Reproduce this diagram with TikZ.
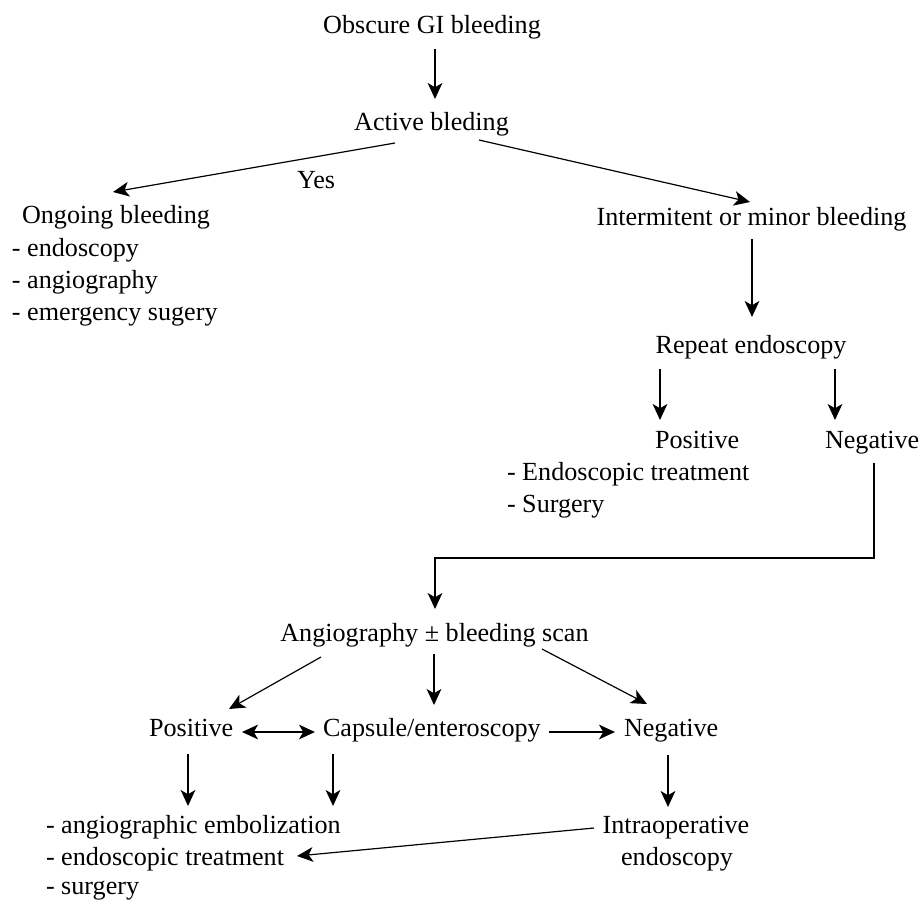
\documentclass[tikz,border=0pt]{standalone}
\usepackage{fontspec}
\setmainfont{Liberation Serif}
\usetikzlibrary{arrows.meta,calc}
\begin{document}
\begin{tikzpicture}[x=0.75pt,y=-0.75pt,
  txt/.style={inner sep=0pt,outer sep=0pt,anchor=base,font=\fontsize{19.6pt}{23pt}\selectfont},
  txtl/.style={txt,anchor=base west},
  arr/.style={line width=0.9pt,-{Stealth[length=12pt,width=11pt,inset=3.2pt]}},
  darr/.style={line width=0.9pt,{Stealth[length=12pt,width=11pt,inset=3.2pt]}-{Stealth[length=12pt,width=11pt,inset=3.2pt]}}]
\useasboundingbox (0,0) rectangle (921,901);
% nodes
\node[txt]  (obs) at (432,33)   {Obscure GI bleeding};
\node[txt]  (act) at (431.5,130) {Active bleding};
\node[txtl] (yes) at (297,188)  {Yes};
\node[txtl] (ong) at (22,223)   {Ongoing bleeding};
\node[txtl] (l1)  at (12,256)   {- endoscopy};
\node[txtl] (l2)  at (12,288)   {- angiography};
\node[txtl] (l3)  at (12,320)   {- emergency sugery};
\node[txt]  (int) at (751.5,225) {Intermitent or minor bleeding};
\node[txt]  (rep) at (751,353)  {Repeat endoscopy};
\node[txtl] (posa) at (655,448) {Positive};
\node[txtl] (nega) at (825,448) {Negative};
\node[txtl] (ea)  at (507,480)  {- Endoscopic treatment};
\node[txtl] (sa)  at (507,512)  {- Surgery};
\node[txt]  (ang) at (434.5,641) {Angiography ± bleeding scan};
\node[txtl] (posb) at (149,736) {Positive};
\node[txtl] (cap) at (323,736)  {Capsule/enteroscopy};
\node[txtl] (negb) at (624,736) {Negative};
\node[txtl] (ra)  at (46,833)   {- angiographic embolization};
\node[txtl] (rb)  at (46,865)   {- endoscopic treatment};
\node[txtl] (rc)  at (46,894)   {- surgery};
\node[txt]  (io)  at (676,833)  {Intraoperative};
\node[txt]  (ioe) at (677,865)  {endoscopy};
% connectors
\draw[arr] ($(obs.base)+(3,16)$) -- ($(act.base)+(3.5,-31)$);
\draw[arr] ($(act.base)+(-36.5,13)$) -- ($(ong.base west)+(91,-31)$);
\draw[arr] ($(act.base)+(47.5,10)$) -- ($(int.base)+(-1.5,-23)$);
\draw[arr] ($(int.base)+(0.5,14)$) -- ($(rep.base)+(1,-36)$);
\draw[arr] ($(rep.base)+(-91,16)$) -- ($(posa.base west)+(5,-28)$);
\draw[arr] ($(rep.base)+(84,16)$) -- ($(nega.base west)+(10,-28)$);
\draw[arr] ($(nega.base west)+(49,15)$) |- ($(ang.base)+(0.5,-83)$) -- ($(ang.base)+(0.5,-32)$);
\draw[arr] ($(ang.base)+(-113.5,16)$) -- ($(posb.base west)+(80,-27)$);
\draw[arr] ($(ang.base)+(-0.5,13)$) -- ($(cap.base west)+(111,-31)$);
\draw[arr] ($(ang.base)+(107.5,8)$) -- ($(negb.base west)+(23,-32)$);
\draw[darr] ($(posb.base west)+(93,-4)$) -- ($(cap.base west)+(-8,-4)$);
\draw[arr] ($(cap.base west)+(226,-4)$) -- ($(negb.base west)+(-9,-4)$);
\draw[arr] ($(posb.base west)+(39,18)$) -- ($(ra.base west)+(142,-27)$);
\draw[arr] ($(cap.base west)+(10,18)$) -- ($(ra.base west)+(287,-27)$);
\draw[arr] ($(negb.base west)+(44,19)$) -- ($(io.base)+(-8,-26)$);
\draw[arr] ($(io.base)+(-82,-5)$) -- ($(rb.base west)+(251,-9)$);
\end{tikzpicture}
\end{document}
